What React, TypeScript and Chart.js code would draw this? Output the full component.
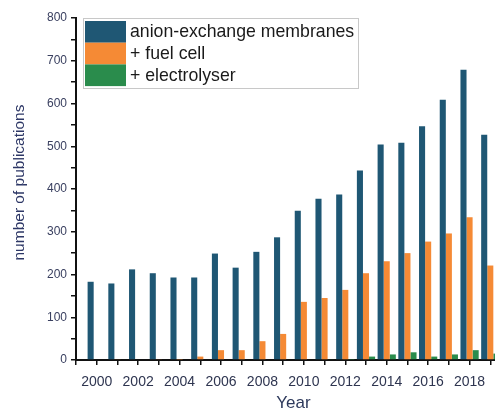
import React, { useEffect, useRef } from "react";
import { Chart, registerables } from "chart.js";

Chart.register(...registerables);

const years = [2000, 2001, 2002, 2003, 2004, 2005, 2006, 2007, 2008, 2009, 2010, 2011, 2012, 2013, 2014, 2015, 2016, 2017, 2018, 2019];
const aemValues = [183, 179, 212, 203, 193, 193, 249, 216, 253, 287, 349, 377, 387, 443, 504, 508, 547, 609, 679, 527];
const fuelCellValues = [0, 2, 0, 2, 1, 8, 23, 23, 44, 61, 136, 145, 164, 203, 231, 250, 277, 296, 334, 221];
const electrolyserValues = [0, 0, 0, 0, 0, 0, 0, 0, 0, 0, 0, 2, 1, 8, 13, 18, 8, 13, 23, 15];
const seriesLabels = ["anion-exchange membranes", "+ fuel cell", "+ electrolyser"];
const seriesColors = ["#1f5774", "#f58a35", "#2a8c4c"];
const xLabelYears = [2000, 2002, 2004, 2006, 2008, 2010, 2012, 2014, 2016, 2018];
const yLabelValues = [0, 100, 200, 300, 400, 500, 600, 700, 800];

const FONT = "'Liberation Sans', Arial, sans-serif";

const insideLegend = {
  id: "insideLegend",
  afterDraw(chart: any) {
    const ctx = chart.ctx;
    const x0 = 83, y0 = 18, w = 275, h = 70;
    ctx.save();
    ctx.fillStyle = "#ffffff";
    ctx.fillRect(x0, y0, w, h);
    ctx.strokeStyle = "#c8c8c8";
    ctx.lineWidth = 1;
    ctx.strokeRect(x0 + 0.5, y0 + 0.5, w, h);
    const rowH = 21.7;
    chart.data.datasets.forEach((ds: any, i: number) => {
      const ry = y0 + 3 + i * rowH;
      ctx.fillStyle = ds.backgroundColor;
      ctx.fillRect(x0 + 2, ry, 41, rowH);
      ctx.fillStyle = "#1a1a1a";
      ctx.font = `17.7px ${FONT}`;
      ctx.textBaseline = "middle";
      ctx.textAlign = "left";
      ctx.fillText(ds.label, x0 + 47, ry + rowH / 2 + 0.5);
    });
    ctx.restore();
  },
};

export default function App() {
  const ref = useRef<HTMLCanvasElement>(null);
  useEffect(() => {
    if (!ref.current) return;
    const chart = new Chart(ref.current, {
      type: "bar",
      data: {
        labels: years,
        datasets: [
          { label: seriesLabels[0], data: aemValues, backgroundColor: seriesColors[0] },
          { label: seriesLabels[1], data: fuelCellValues, backgroundColor: seriesColors[1] },
          { label: seriesLabels[2], data: electrolyserValues, backgroundColor: seriesColors[2] },
        ],
      },
      options: {
        animation: false,
        responsive: false,
        layout: { padding: { top: 18, right: 7, left: 0, bottom: 0 } },
        datasets: { bar: { categoryPercentage: 0.88, barPercentage: 1.0 } },
        plugins: { legend: { display: false }, tooltip: { enabled: false } },
        scales: {
          x: {
            type: "linear",
            min: 1999,
            max: 2020,
            offset: false,
            grid: { display: true, offset: false, drawOnChartArea: false, drawTicks: true, tickLength: 5, color: "#111", lineWidth: 1.5 },
            border: { display: true, color: "#111", width: 2 },
            ticks: {
              stepSize: 1,
              autoSkip: false,
              maxRotation: 0,
              padding: 9,
              color: "#2e3550",
              font: { family: FONT, size: 14 },
              callback: (v: any) => (xLabelYears.includes(Number(v)) ? String(v) : ""),
            },
            title: { display: true, text: "Year", color: "#2e3a5c", font: { family: FONT, size: 17, lineHeight: 1 }, padding: { top: 0, bottom: 0 } },
            afterFit: (s: any) => { s.height = 52; },
          },
          y: {
            min: 0,
            max: 800,
            grid: { display: true, drawOnChartArea: false, drawTicks: true, tickLength: 5, color: "#111", lineWidth: 1.5 },
            border: { display: true, color: "#111", width: 2 },
            ticks: {
              stepSize: 50,
              autoSkip: false,
              padding: 4,
              color: "#3a4060",
              font: { family: FONT, size: 12 },
              callback: (v: any) => (yLabelValues.includes(Number(v)) ? String(v) : ""),
            },
            title: { display: true, text: "   number of publications", color: "#2d3766", font: { family: FONT, size: 15.5, lineHeight: 1.2 }, padding: { top: 10, bottom: 0 } },
            afterFit: (s: any) => { s.width = 76; },
          },
        },
      },
      plugins: [insideLegend],
    } as any);
    return () => chart.destroy();
  }, []);
  return (
    <div style={{ position: "absolute", left: 0, top: 0, width: 495, height: 412, overflow: "hidden", background: "#fff" }}>
      <canvas ref={ref} width={520} height={412} style={{ display: "block" }} />
    </div>
  );
}
